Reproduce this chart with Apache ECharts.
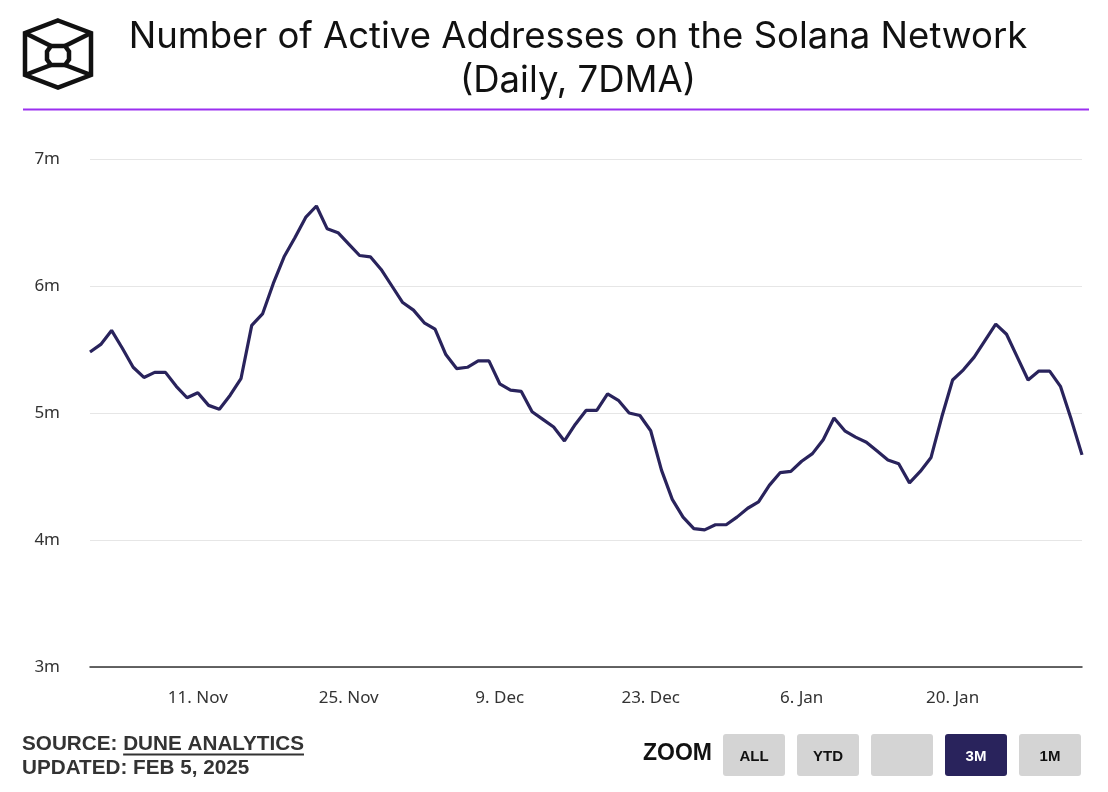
<!DOCTYPE html>
<html>
<head>
<meta charset="utf-8">
<script src="https://cdn.jsdelivr.net/npm/echarts@6/dist/echarts.min.js"></script>
<style>
html,body{margin:0;padding:0;background:#fff;}
#chart{width:1108px;height:792px;}
</style>
</head>
<body>
<div id="chart"></div>
<script>
// ---- data ----
const startDate = '2024-11-01';
const activeAddressesM = [
  5.48, 5.54, 5.65, 5.51, 5.36, 5.28, 5.32, 5.32, 5.21, 5.12,
  5.16, 5.06, 5.03, 5.14, 5.27, 5.69, 5.78, 6.02, 6.23, 6.38,
  6.54, 6.63, 6.45, 6.42, 6.33, 6.24, 6.23, 6.13, 6.00, 5.87,
  5.81, 5.71, 5.66, 5.46, 5.35, 5.36, 5.41, 5.41, 5.23, 5.18,
  5.17, 5.01, 4.95, 4.89, 4.78, 4.91, 5.02, 5.02, 5.15, 5.10,
  5.00, 4.98, 4.86, 4.55, 4.32, 4.18, 4.09, 4.08, 4.12, 4.12,
  4.18, 4.25, 4.30, 4.43, 4.53, 4.54, 4.62, 4.68, 4.79, 4.96,
  4.86, 4.81, 4.77, 4.70, 4.63, 4.60, 4.45, 4.54, 4.65, 4.97,
  5.26, 5.34, 5.44, 5.57, 5.70, 5.62, 5.44, 5.26, 5.33, 5.33,
  5.21, 4.95, 4.67
];
const tickDates = ['2024-11-11','2024-11-25','2024-12-09','2024-12-23','2025-01-06','2025-01-20'];
const tickLabels = ['11. Nov','25. Nov','9. Dec','23. Dec','6. Jan','20. Jan'];
const yTicks = [3, 4, 5, 6, 7];
const zoomButtons = ['ALL', 'YTD', '', '3M', '1M'];
const activeZoom = '3M';

// categories: one per day
const dates = [];
{
  const d0 = new Date(startDate + 'T00:00:00Z');
  for (let i = 0; i < activeAddressesM.length; i++) {
    const d = new Date(d0.getTime() + i * 86400000);
    dates.push(d.toISOString().slice(0, 10));
  }
}

const lineColor = '#29235c';
const chart = echarts.init(document.getElementById('chart'), null, {renderer: 'canvas'});

const footFont = 'bold 20.7px "Liberation Sans", Arial, sans-serif';
const mctx = document.createElement('canvas').getContext('2d');
mctx.font = footFont;
const srcW = mctx.measureText('SOURCE: ').width;
const duneW = mctx.measureText('DUNE ANALYTICS').width;

// logo
const logo = [
  {type:'polygon', shape:{points:[[58,20.5],[91,33],[91,75],[58,87.5],[25,75],[25,33]]}},
  {type:'polyline', shape:{points:[[25,33],[51,46]]}},
  {type:'polyline', shape:{points:[[91,33],[65,46]]}},
  {type:'polygon', shape:{points:[[51,46],[65,46],[69,51.5],[69,59.5],[65,65],[51,65],[47,59.5],[47,51.5]]}},
  {type:'polyline', shape:{points:[[25,75],[51,65]]}},
  {type:'polyline', shape:{points:[[91,75],[65,65]]}}
].map(e => Object.assign(e, {style:{fill:null, stroke:'#111', lineWidth:4.5, lineJoin:'miter'}}));

const graphics = logo.concat([
  {type:'text', x:578, y:15, style:{text:'Number of Active Addresses on the Solana Network\n(Daily, 7DMA)', font:'400 36.5px Inter, "Noto Sans", sans-serif', fill:'#111', align:'center', lineHeight:44}},
  {type:'rect', shape:{x:23, y:108.5, width:1066, height:2}, style:{fill:'#9b30f0'}},
  {type:'text', x:22, y:744, style:{text:'SOURCE: ', font:footFont, fill:'#333', verticalAlign:'middle'}},
  {type:'text', x:22 + srcW, y:744, style:{text:'DUNE ANALYTICS', font:footFont, fill:'#333', verticalAlign:'middle'}},
  {type:'rect', shape:{x:22 + srcW, y:753.5, width:duneW, height:2}, style:{fill:'#333'}},
  {type:'text', x:22, y:768.5, style:{text:'UPDATED: FEB 5, 2025', font:footFont, fill:'#333', verticalAlign:'middle'}},
  {type:'text', x:643, y:754, style:{text:'ZOOM', font:'bold 23px "Liberation Sans", Arial, sans-serif', fill:'#111', verticalAlign:'middle'}}
]);
const bx0 = 723, bw = 62, bgap = 12;
zoomButtons.forEach((b, i) => {
  const x = bx0 + i * (bw + bgap);
  const active = b === activeZoom;
  graphics.push({type:'rect', shape:{x:x, y:734, width:bw, height:42, r:3}, style:{fill: active ? lineColor : '#d4d4d4'}});
  if (b) graphics.push({type:'text', x:x + bw/2, y:757, style:{text:b, font:'bold 15px "Liberation Sans", Arial, sans-serif', fill: active ? '#fff' : '#111', align:'center', verticalAlign:'middle'}});
});

chart.setOption({
  animation: false,
  backgroundColor: '#fff',
  grid: {left: 90, right: 26, top: 159, bottom: 125},
  xAxis: {
    type: 'category',
    data: dates,
    boundaryGap: false,
    axisLine: {show: true, lineStyle: {color: '#333', width: 1.5}},
    axisTick: {show: false},
    axisLabel: {
      interval: (idx, val) => tickDates.indexOf(val) >= 0,
      formatter: (val) => { const k = tickDates.indexOf(val); return k >= 0 ? tickLabels[k] : ''; },
      color: '#333', fontSize: 17, fontFamily: '"Noto Sans", sans-serif', margin: 23
    },
    splitLine: {show: false}
  },
  yAxis: {
    type: 'value',
    min: yTicks[0], max: yTicks[yTicks.length - 1], interval: 1,
    axisLine: {show: false},
    axisTick: {show: false},
    axisLabel: {formatter: '{value}m', color: '#333', fontSize: 17, fontFamily: '"Noto Sans", sans-serif', margin: 30, padding: [4, 0, 0, 0]},
    splitLine: {show: true, lineStyle: {color: '#e6e6e6', width: 1}}
  },
  series: [{
    type: 'line',
    data: activeAddressesM,
    showSymbol: false,
    lineStyle: {color: lineColor, width: 3.2},
    itemStyle: {color: lineColor}
  }],
  graphic: graphics
});
</script>
</body>
</html>
